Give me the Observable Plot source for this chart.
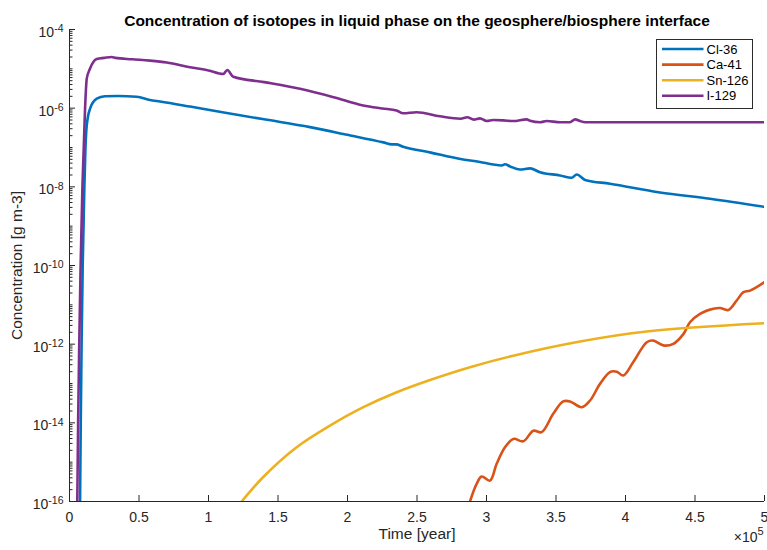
<!DOCTYPE html>
<html><head><meta charset="utf-8">
<script src="https://cdn.jsdelivr.net/npm/d3@7"></script>
<script src="https://cdn.jsdelivr.net/npm/@observablehq/plot@0.6"></script>
<style>
body{margin:0;background:#fff;}
#wrap{position:relative;width:767px;height:550px;font-family:"Liberation Sans",Arial,Helvetica,sans-serif;}
#legend{position:absolute;left:656px;top:39px;width:97px;height:70px;border:1px solid #2b2b2b;background:#fff;box-sizing:border-box;}
#legend svg{display:block;}
</style></head><body><div id="wrap"></div>
<script>
const chartTitle = "Concentration of isotopes in liquid phase on the geosphere/biosphere interface";
const xLabel = "Time [year]";
const yLabel = "Concentration [g m-3]";
const seriesNames = ["Cl-36", "Ca-41", "Sn-126", "I-129"];
const seriesColors = ["#0072BD", "#D95319", "#EDB120", "#7E2F8E"];
const seriesCurves = ["monotone-x", "catmull-rom", "catmull-rom", "monotone-x"];

const xTicks = [0, 50000, 100000, 150000, 200000, 250000, 300000, 350000, 400000, 450000, 500000];
const yTicks = [1e-16, 1e-14, 1e-12, 1e-10, 1e-8, 1e-6, 1e-4];

const cl36Year = [7600, 8100, 8700, 9500, 10700, 11500, 12400, 14700, 19600, 25500, 35000, 48300, 57900, 65100, 86700, 110000, 140000, 173000, 200000, 225800, 232000, 235000, 240000, 260000, 281300, 295300, 304900, 311000, 313300, 317000, 324100, 331300, 338500, 352900, 361300, 364900, 370900, 388800, 424800, 460800, 500000];
const cl36Conc = [1e-16, 1e-14, 1e-12, 1e-10, 1e-8, 1e-7, 3.6e-7, 9.5e-7, 1.74e-6, 2.0e-6, 2.04e-6, 1.95e-6, 1.62e-6, 1.48e-6, 1.1e-6, 7.9e-7, 5.2e-7, 3.3e-7, 2.1e-7, 1.35e-7, 1.2e-7, 1.2e-7, 1.05e-7, 7.4e-8, 5.1e-8, 4.3e-8, 3.7e-8, 3.5e-8, 3.75e-8, 3.3e-8, 2.75e-8, 2.95e-8, 2.35e-8, 1.95e-8, 1.7e-8, 2.05e-8, 1.5e-8, 1.2e-8, 7.2e-9, 5.0e-9, 3.1e-9];

const ca41Year = [288100, 292900, 296500, 302500, 307300, 313300, 319300, 326500, 333700, 339700, 348000, 355200, 360100, 368500, 374500, 381700, 388800, 393700, 398400, 405600, 415300, 420000, 427200, 434400, 441600, 446400, 453600, 463200, 468000, 474000, 480000, 484800, 489600, 500000];
const ca41Conc = [1e-16, 2.8e-16, 4.3e-16, 3.4e-16, 9.1e-16, 2.4e-15, 3.9e-15, 3.4e-15, 6.3e-15, 5.8e-15, 1.7e-14, 3.5e-14, 3.5e-14, 2.5e-14, 3.7e-14, 9.8e-14, 1.95e-13, 2.0e-13, 1.6e-13, 3.5e-13, 1.12e-12, 1.23e-12, 9.3e-13, 1.02e-12, 1.8e-12, 3.6e-12, 5.9e-12, 7.9e-12, 8.3e-12, 7.4e-12, 1.29e-11, 2.1e-11, 2.3e-11, 3.8e-11];

const sn126Year = [123900, 139400, 163400, 187400, 211400, 235400, 259400, 288100, 319300, 367300, 415300, 500000];
const sn126Conc = [1e-16, 4.2e-16, 2.4e-15, 8.5e-15, 2.5e-14, 6.0e-14, 1.23e-13, 2.6e-13, 5.1e-13, 1.17e-12, 2.1e-12, 3.4e-12];

const i129Year = [5600, 6200, 7000, 8000, 9300, 11200, 12400, 14700, 19600, 25000, 30400, 33000, 45000, 57900, 70000, 86700, 100000, 110600, 113500, 117800, 140000, 165800, 190000, 211300, 225000, 235300, 240100, 249700, 266500, 281300, 286100, 290900, 295300, 300100, 304900, 312100, 319300, 328900, 331300, 338500, 343300, 352900, 360100, 363700, 367300, 370900, 500000];
const i129Conc = [1e-16, 1e-14, 1e-12, 1e-10, 1e-8, 1e-6, 5.6e-6, 1.0e-5, 1.78e-5, 1.9e-5, 2.0e-5, 1.9e-5, 1.75e-5, 1.62e-5, 1.45e-5, 1.1e-5, 9.1e-6, 7.4e-6, 9.3e-6, 6.3e-6, 4.6e-6, 3.1e-6, 1.9e-6, 1.17e-6, 9.8e-7, 8.7e-7, 7.4e-7, 7.9e-7, 6.2e-7, 5.4e-7, 5.9e-7, 5.1e-7, 5.5e-7, 4.7e-7, 5.0e-7, 4.9e-7, 4.7e-7, 5.2e-7, 4.8e-7, 4.4e-7, 4.7e-7, 4.4e-7, 4.4e-7, 5.2e-7, 4.7e-7, 4.4e-7, 4.4e-7];

const seriesData = [
  [cl36Year, cl36Conc],
  [ca41Year, ca41Conc],
  [sn126Year, sn126Conc],
  [i129Year, i129Conc]
].map(([ys, cs], i) => ys.map((y, j) => ({year: y, conc: cs[j], series: seriesNames[i]})));

const W = 767, H = 550, mL = 69, mR = 3, mT = 29, mB = 49;
const innerW = W - mL - mR, innerH = H - mT - mB;
const axisColor = "#262626";
const font = '"Liberation Sans", Arial, Helvetica, sans-serif';

// minor log ticks (1..9 × 10^k between the labelled decades)
const yMinor = [];
for (let i = 0; i < yTicks.length - 1; i++) {
  const k0 = Math.round(Math.log10(yTicks[i]));
  for (let k = k0; k < k0 + 2; k++) {
    for (let m = (k === k0 ? 2 : 1); m <= 9; m++) yMinor.push(m * Math.pow(10, k));
  }
}

const plot = Plot.plot({
  width: W, height: H,
  marginLeft: mL, marginRight: mR, marginTop: mT, marginBottom: mB,
  style: {fontFamily: font, fontSize: "14px", color: axisColor, background: "#fff", overflow: "visible"},
  x: {domain: [0, 500000], label: null},
  y: {type: "log", domain: [1e-16, 1e-4], label: null},
  marks: [
    Plot.axisX({ticks: xTicks, tickSize: 0, tickPadding: 11, tickFormat: d => String(d / 1e5), fontSize: 14, color: axisColor, label: null}),
    Plot.axisY({ticks: yTicks, tickSize: 0, tickPadding: 6, dy: 3, tickFormat: d => String(Math.round(Math.log10(d))), fontSize: 14, color: axisColor, label: null}),
    Plot.tickX(xTicks, {x: d => d, insetTop: innerH - 6, stroke: axisColor, strokeWidth: 1}),
    Plot.tickY(yTicks, {y: d => d, insetRight: innerW - 6, stroke: axisColor, strokeWidth: 1}),
    Plot.tickY(yMinor, {y: d => d, insetRight: innerW - 3.5, stroke: axisColor, strokeWidth: 1}),
    ...seriesData.map((data, i) => Plot.lineY(data, {
      x: "year", y: "conc", stroke: seriesColors[i], strokeWidth: 2.6,
      curve: seriesCurves[i], strokeLinejoin: "round", strokeLinecap: "round", clip: true
    })),
    Plot.ruleX([0], {stroke: axisColor, strokeWidth: 1}),
    Plot.ruleY([1e-16], {stroke: axisColor, strokeWidth: 1}),
    Plot.text([chartTitle], {frameAnchor: "top", dy: -15, fontSize: 15.5, fontWeight: "bold", fill: "#000", textAnchor: "middle"}),
    Plot.text([xLabel], {frameAnchor: "bottom", dy: 37, fontSize: 15.5, fill: axisColor, textAnchor: "middle"}),
    Plot.text([yLabel], {frameAnchor: "left", dx: -52, rotate: -90, fontSize: 15.5, fill: axisColor, textAnchor: "middle"}),
    Plot.text(["\u00d710"], {frameAnchor: "bottom-right", dx: -7, dy: 40, fontSize: 14, fill: axisColor, textAnchor: "end"}),
    Plot.text(["5"], {frameAnchor: "bottom-right", dx: -7, dy: 33, fontSize: 11, fill: axisColor, textAnchor: "start"})
  ]
});

// y tick labels as 10^k with superscripts
d3.select(plot).selectAll('[aria-label="y-axis tick label"] text').each(function() {
  const t = d3.select(this);
  const exp = t.text();
  t.text("");
  t.append("tspan").text("10");
  t.append("tspan").attr("dy", "-4.5").attr("font-size", "10.5px").text(exp);
});

const wrap = document.getElementById("wrap");
wrap.appendChild(plot);

// legend
const leg = document.createElement("div");
leg.id = "legend";
wrap.appendChild(leg);
const ls = d3.select(leg).append("svg").attr("width", 95).attr("height", 68)
  .style("font-family", font).style("font-size", "13px");
seriesNames.forEach((name, i) => {
  const cy = 9 + i * 15.6;
  ls.append("line").attr("x1", 5).attr("x2", 46.5).attr("y1", cy).attr("y2", cy)
    .attr("stroke", seriesColors[i]).attr("stroke-width", 2.6);
  ls.append("text").attr("x", 49.5).attr("y", cy).attr("dy", "0.35em").attr("fill", "#000").text(name);
});
</script>
</body></html>
